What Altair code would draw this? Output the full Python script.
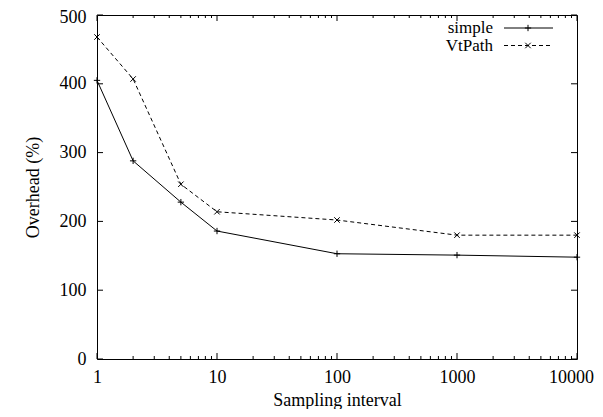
import altair as alt
import pandas as pd

intervals = [1, 2, 5, 10, 100, 1000, 10000]
simple = [405, 288, 228, 186, 153, 151, 148]
vtpath = [468, 407, 254, 214, 202, 180, 180]
series_names = ["simple", "VtPath"]
y_ticks = [0, 100, 200, 300, 400, 500]
x_major = [1, 10, 100, 1000, 10000]
x_minor = [m * 10 ** d for d in range(4) for m in range(2, 10)]

W, H = 480, 344
FONT = "Liberation Serif, Times New Roman, DejaVu Serif, serif"
FS = 18

df_s = pd.DataFrame({"x": intervals, "y": simple})
df_v = pd.DataFrame({"x": intervals, "y": vtpath})

xs = alt.Scale(type="log", domain=[1, 10000])
ys = alt.Scale(domain=[0, 500])

X = alt.X("x:Q", scale=xs, title="Sampling interval",
          axis=alt.Axis(values=x_major, format="d", tickSize=0, domain=False, grid=False,
                        labelPadding=9, titlePadding=5, labelFont=FONT, titleFont=FONT,
                        labelFontSize=FS, titleFontSize=FS, titleFontWeight="normal",
                        labelColor="black", titleColor="black", labelFlush=False,
                        labelOffset={"condition": {"test": "datum.value >= 10000", "value": -6},
                                     "value": 0}))
Y = alt.Y("y:Q", scale=ys, title="Overhead (%)",
          axis=alt.Axis(values=y_ticks, tickSize=0, domain=False, grid=False,
                        labelPadding=11, titlePadding=17, labelFont=FONT, titleFont=FONT,
                        labelFontSize=FS, titleFontSize=FS, titleFontWeight="normal",
                        labelColor="black", titleColor="black", labelFlush=False,
                        labelOffset={"condition": {"test": "datum.value >= 500", "value": 2},
                                     "value": 0}))

plus_shape = "M-1,0L1,0M0,-1L0,1"
x_shape = "M-1,-1L1,1M-1,1L1,-1"

line_s = alt.Chart(df_s).mark_line(color="black", strokeWidth=1).encode(x=X, y=Y)
pts_s = alt.Chart(df_s).mark_point(shape=plus_shape, filled=False, color="black",
                                   size=40, strokeWidth=1, opacity=1).encode(x="x:Q", y="y:Q")
line_v = alt.Chart(df_v).mark_line(color="black", strokeWidth=1, strokeDash=[4, 3]).encode(x="x:Q", y="y:Q")
pts_v = alt.Chart(df_v).mark_point(shape=x_shape, filled=False, color="black",
                                   size=30, strokeWidth=1, opacity=1).encode(x="x:Q", y="y:Q")

# inward ticks
df_xmaj = pd.DataFrame({"x": x_major})
df_xmin = pd.DataFrame({"x": x_minor})
df_ymaj = pd.DataFrame({"y": y_ticks})
tick_layers = []
for d, L in [(df_xmaj, 6), (df_xmin, 3)]:
    tick_layers.append(alt.Chart(d).mark_rule(color="black", strokeWidth=1).encode(
        x="x:Q", y=alt.value(H), y2=alt.value(H - L)))
    tick_layers.append(alt.Chart(d).mark_rule(color="black", strokeWidth=1).encode(
        x="x:Q", y=alt.value(0), y2=alt.value(L)))
tick_layers.append(alt.Chart(df_ymaj).mark_rule(color="black", strokeWidth=1).encode(
    y="y:Q", x=alt.value(0), x2=alt.value(6)))
tick_layers.append(alt.Chart(df_ymaj).mark_rule(color="black", strokeWidth=1).encode(
    y="y:Q", x=alt.value(W), x2=alt.value(W - 6)))

# legend
one = pd.DataFrame({"a": [0]})
legend_layers = []
for i, (name, dash, shp, sz) in enumerate([(series_names[0], [1, 0], plus_shape, 40),
                                            (series_names[1], [4, 3], x_shape, 30)]):
    yy = 13 + 17.5 * i
    legend_layers.append(alt.Chart(one).mark_text(align="right", baseline="middle", font=FONT,
                                                  fontSize=17, color="black").encode(
        x=alt.value(396), y=alt.value(yy), text=alt.value(name)))
    legend_layers.append(alt.Chart(one).mark_rule(color="black", strokeWidth=1, strokeDash=dash).encode(
        x=alt.value(407), x2=alt.value(456), y=alt.value(yy)))
    legend_layers.append(alt.Chart(one).mark_point(shape=shp, filled=False, color="black", size=sz,
                                                   strokeWidth=1, opacity=1).encode(
        x=alt.value(431), y=alt.value(yy)))

chart = alt.layer(line_s, pts_s, line_v, pts_v, *tick_layers, *legend_layers).properties(
    width=W, height=H,
    autosize=alt.AutoSizeParams(type="none"),
    padding={"left": 89, "top": 7, "right": 18, "bottom": 50},
).configure_view(stroke="black", strokeWidth=1)

chart.save("out.html", embed_options={"renderer": "svg", "actions": False})
